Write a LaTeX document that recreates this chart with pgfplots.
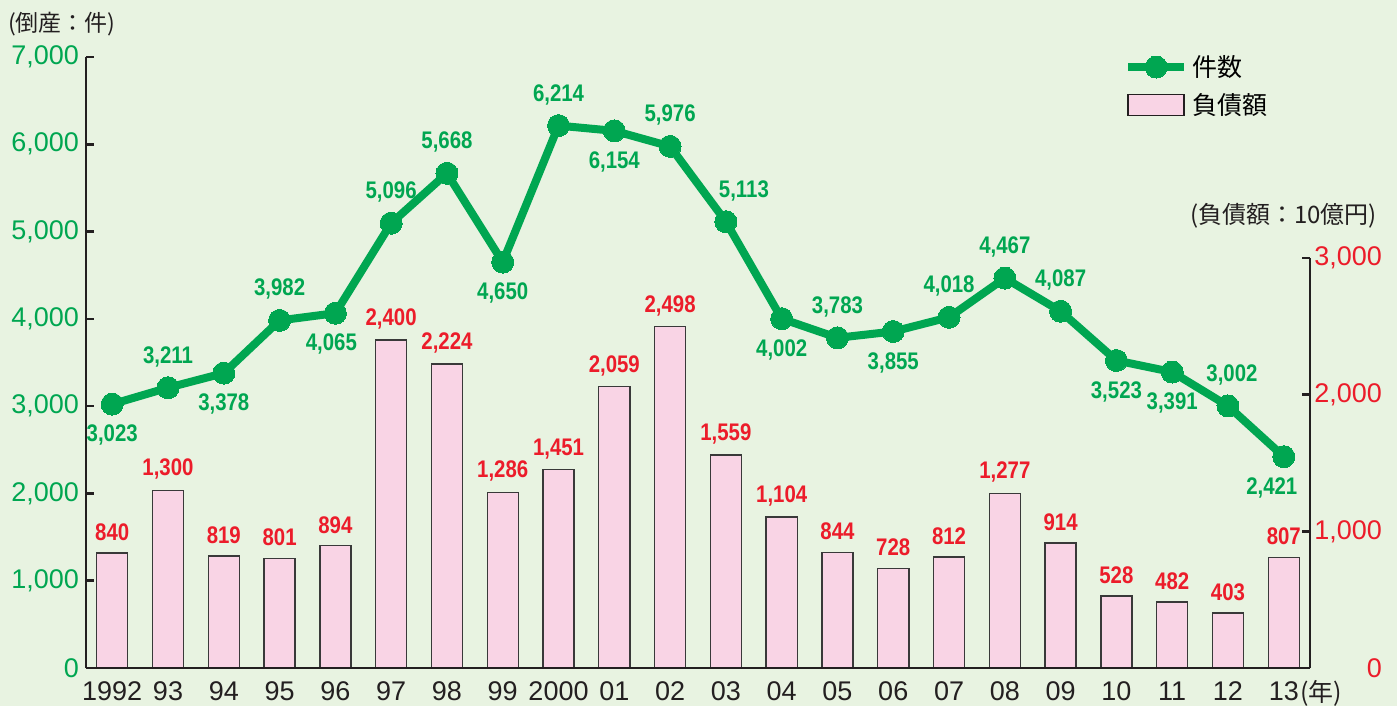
\documentclass[border=0pt]{standalone}
\usepackage{fontspec}
\setmainfont{Liberation Sans}
\newfontfamily\jp{Noto Sans CJK JP}
\newfontfamily\cond[FakeStretch=0.85]{Liberation Sans}
\usepackage{pgfplots}
\usepackage{pgfplotstable}
\pgfplotsset{compat=1.18}
\pgfkeys{/pgf/number format/.cd, 1000 sep={,}, assume math mode=true}
\pgfplotsset{
  linelegend/.style={legend image code/.code={\draw[mark repeat=2, mark phase=2, ##1]
    plot coordinates {(0pt,0pt) (14pt,0pt) (28pt,0pt)};}},
  boxlegend/.style={legend image code/.code={\draw[##1] (0pt,-5.25pt) rectangle (28pt,5.25pt);}},
}

\definecolor{bgc}{HTML}{E8F3E1}
\definecolor{lgreen}{HTML}{00A651}
\definecolor{lred}{HTML}{EC1C2A}
\definecolor{lpink}{HTML}{F9D4E5}
\definecolor{tk}{HTML}{231F20}

% bankruptcies (count), label above (1) or below (-1), label x shift
\pgfplotstableread{
x n p dx
0 3023 -1 0
1 3211 1 0
2 3378 -1 0
3 3982 1 0
4 4065 -1 -2
5 5096 1 0
6 5668 1 0
7 4650 -1 0
8 6214 1 0
9 6154 -1 0
10 5976 1 0
11 5113 1 9
12 4002 -1 0
13 3783 1 0
14 3855 -1 0
15 4018 1 0
16 4467 1 0
17 4087 1 0
18 3523 -1 0
19 3391 -1 0
20 3002 1 2
21 2421 -1 -6
}\cases

% liabilities (10 billion yen)
\pgfplotstableread{
x d
0 840
1 1300
2 819
3 801
4 894
5 2400
6 2224
7 1286
8 1451
9 2059
10 2498
11 1559
12 1104
13 844
14 728
15 812
16 1277
17 914
18 528
19 482
20 403
21 807
}\debt

\begin{document}
\begin{tikzpicture}
\fill[bgc] (-43pt,-19pt) rectangle (655.5pt,334pt);

% right axis: liabilities bars
\begin{axis}[
  at={(0,0)}, anchor=south west,
  scale only axis, width=612pt, height=305.5pt,
  xmin=-0.47, xmax=21.47,
  ymin=0, ymax=4470,
  axis x line=none,
  axis y line*=right,
  y axis line style={draw=none},
  ytick={0,1000,2000,3000},
  scaled y ticks=false,
  tick align=inside, major tick length=4pt,
  y tick style={line width=1.25pt, tk},
  yticklabel style={text=lred, anchor=east, xshift=39.5pt},
  tick label style={font=\fontsize{13.5}{13.5}\selectfont},
  clip=false,
]
\addplot[ybar, bar width=0.557, fill=lpink, draw=gray!45!black, line width=0.7pt,
  nodes near coords,
  every node near coord/.append style={anchor=center, yshift=10.5pt, text=lred,
    font=\cond\bfseries\fontsize{12}{12}\selectfont}]
  table[x=x, y=d]{\debt};
\draw[line width=1.25pt, tk] (axis cs:21.47,0) -- (axis cs:21.47,3000);
\end{axis}

% left axis: bankruptcy count line
\begin{axis}[
  at={(0,0)}, anchor=south west,
  scale only axis, width=612pt, height=305.5pt,
  xmin=-0.47, xmax=21.47,
  ymin=0, ymax=7000,
  axis x line*=bottom, axis y line*=left,
  axis line style={-, line width=1.25pt, tk},
  xtick={0,...,21},
  xticklabels={1992,93,94,95,96,97,98,99,2000,01,02,03,04,05,06,07,08,09,10,11,12,13},
  x tick style={draw=none},
  ytick={0,1000,...,7000},
  scaled y ticks=false,
  y tick style={line width=1.25pt, tk},
  tick align=inside, major tick length=4pt,
  yticklabel style={text=lgreen},
  xticklabel style={text=tk, yshift=-3.5pt},
  tick label style={font=\fontsize{13.5}{13.5}\selectfont},
  clip=false,
  legend style={at={(0.843,1.017)}, anchor=north west, draw=none, fill=none,
    font=\jp\fontsize{12.5}{15}\selectfont, row sep=3pt},
  legend cell align=left,
]
\addplot[lgreen, line width=4pt, mark=*, mark size=5.5pt,
  mark options={solid, fill=lgreen, draw=lgreen, line width=0pt},
  nodes near coords,
  visualization depends on={\thisrow{p}\as\pp},
  visualization depends on={\thisrow{dx}\as\ddx},
  every node near coord/.append style={anchor=center, yshift=\pp*15.5pt, xshift=\ddx pt,
    text=lgreen, font=\cond\bfseries\fontsize{12}{12}\selectfont},
  linelegend]
  table[x=x, y=n]{\cases};
\addlegendentry{件数}
\addlegendimage{fill=lpink, draw=tk, line width=0.8pt, boxlegend}
\addlegendentry{負債額}
\end{axis}

\node[font=\jp\fontsize{11.5}{11.5}\selectfont, text=tk] at (-12pt,322pt) {(倒産：件)};
\node[font=\jp\fontsize{12}{12}\selectfont, text=tk, anchor=east] at (649pt,226pt) {(負債額：10億円)};
\node[font=\jp\fontsize{12.5}{12.5}\selectfont, text=tk, anchor=west, inner sep=0pt] at (607pt,-12.5pt) {(年)};

\pgfresetboundingbox
\path (-43pt,-19pt) rectangle (655.5pt,334pt);
\end{tikzpicture}
\end{document}
